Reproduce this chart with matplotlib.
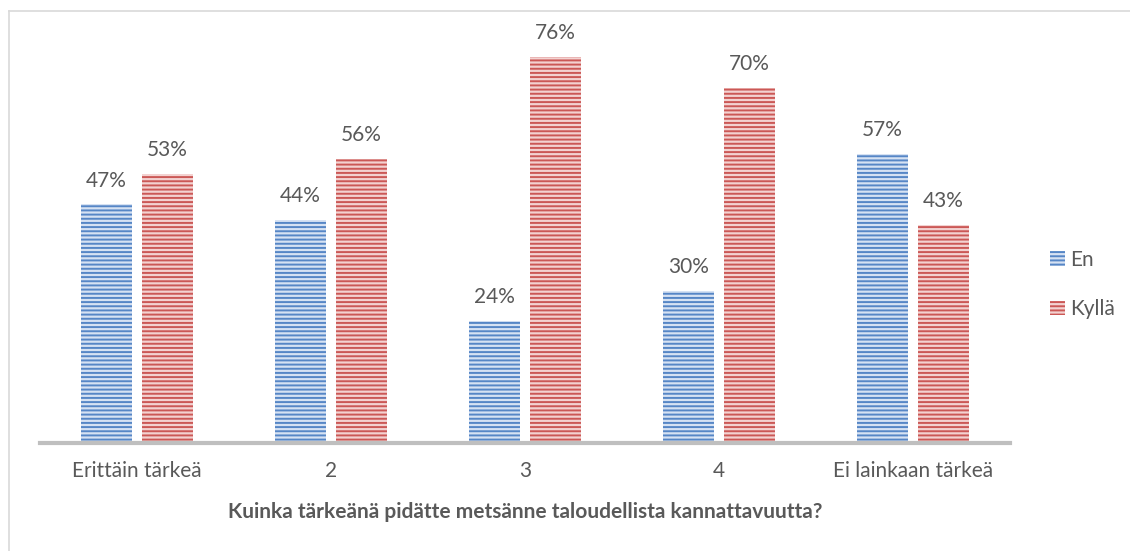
import matplotlib.pyplot as plt
import matplotlib.lines as mlines
import numpy as np

categories = ["Erittäin tärkeä", "2", "3", "4", "Ei lainkaan tärkeä"]
en_values = [47, 44, 24, 30, 57]
kylla_values = [53, 56, 76, 70, 43]
series_names = ["En", "Kyllä"]
x_title = "Kuinka tärkeänä pidätte metsänne taloudellista kannattavuutta?"

plt.rcParams['font.family'] = ['Lato', 'DejaVu Sans']
plt.rcParams['hatch.linewidth'] = 1.4

text_col = '#595959'
blue_face, blue_line = '#d6e2f3', '#5686c6'
red_face, red_line = '#f3d2d1', '#cb5856'
fs = 15

fig = plt.figure(figsize=(11.3, 5.51), dpi=100)
ax = fig.add_axes([40 / 1130, 108 / 551, 970 / 1130, 406 / 551])

x = np.arange(len(categories))
w = 0.263
off = 0.157
b1 = ax.bar(x - off, en_values, w, facecolor=blue_face, edgecolor=blue_line,
            hatch='----', linewidth=0, label=series_names[0])
b2 = ax.bar(x + off, kylla_values, w, facecolor=red_face, edgecolor=red_line,
            hatch='----', linewidth=0, label=series_names[1])

for bars, vals in ((b1, en_values), (b2, kylla_values)):
    for r, v in zip(bars, vals):
        ax.annotate(f"{v}%", (r.get_x() + r.get_width() / 2, v),
                    xytext=(0, 10), textcoords='offset points',
                    ha='center', va='bottom', fontsize=fs, color=text_col)

ax.set_xlim(-0.5, 4.5)
ax.set_ylim(0, 80)
ax.set_yticks([])
ax.set_xticks(x)
ax.set_xticklabels(categories, fontsize=fs, color=text_col)
ax.tick_params(axis='x', length=0, pad=13)
for s in ('top', 'right', 'left'):
    ax.spines[s].set_visible(False)
ax.spines['bottom'].set_color('#bfbfbf')
ax.spines['bottom'].set_linewidth(3)

ax.set_xlabel(x_title, fontsize=fs, fontweight='bold', color=text_col, labelpad=15)

leg = ax.legend(loc='center left', bbox_to_anchor=(1.022, 0.39), frameon=False,
                fontsize=fs, labelcolor=text_col, handlelength=0.7,
                handleheight=0.7, handletextpad=0.25, labelspacing=1.4)

# outer chart frame (left and top edges)
fig.add_artist(mlines.Line2D([8.5 / 1130, 8.5 / 1130], [0, 1 - 10.5 / 551],
                             color='#d9d9d9', linewidth=1.2))
fig.add_artist(mlines.Line2D([8.5 / 1130, 1], [1 - 10.5 / 551, 1 - 10.5 / 551],
                             color='#d9d9d9', linewidth=1.2))

fig.savefig('out.png', dpi=100)
